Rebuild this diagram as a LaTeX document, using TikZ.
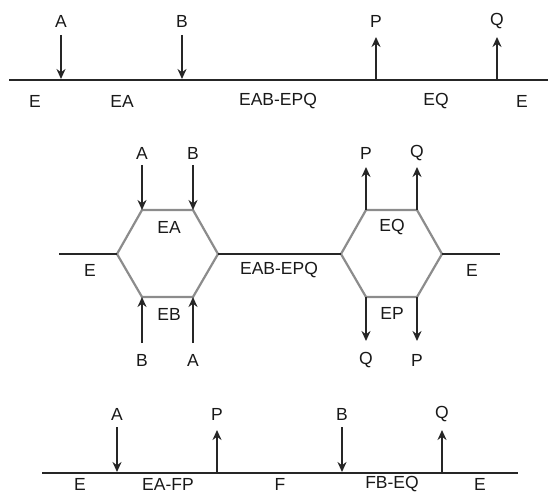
\documentclass[tikz,border=0pt]{standalone}
\usepackage{fontspec}
\setmainfont{Liberation Sans}
\usetikzlibrary{arrows.meta}
\begin{document}
\begin{tikzpicture}[x=1pt,y=-1pt,
  axis/.style={line width=2.2pt,draw=black!85},
  hexedge/.style={line width=2.2pt,draw=black!45},
  arr/.style={line width=2.2pt,draw=black!85,-{Stealth[length=10pt,width=9pt]}},
  lbl/.style={inner sep=0pt,font=\fontsize{17.5}{17.5}\selectfont,text=black!90}]
\useasboundingbox (0,0) rectangle (548,494);
% ---------- top scheme ----------
\coordinate (t0) at (9,80);
\coordinate (t1) at (548,80);
\draw[axis] (t0) -- (t1);
\coordinate (tAs) at (61,35); \coordinate (tAe) at (61,79);
\coordinate (tBs) at (182,35); \coordinate (tBe) at (182,79);
\coordinate (tPs) at (376,80); \coordinate (tPe) at (376,37);
\coordinate (tQs) at (497,80); \coordinate (tQe) at (497,37);
\draw[arr] (tAs) -- (tAe);
\draw[arr] (tBs) -- (tBe);
\draw[arr] (tPs) -- (tPe);
\draw[arr] (tQs) -- (tQe);
\node[lbl] (tA) at (61,21) {A};
\node[lbl] (tB) at (182,21) {B};
\node[lbl] (tP) at (376,21) {P};
\node[lbl] (tQ) at (497,21) {Q};
\node[lbl] (tE1) at (35,101) {E};
\node[lbl] (tEA) at (122,101) {EA};
\node[lbl] (tEAB) at (278,101) {EAB-EPQ};
\node[lbl] (tEQ) at (436,101) {EQ};
\node[lbl] (tE2) at (522,101) {E};
% ---------- middle scheme ----------
\coordinate (hL) at (117,254);
\coordinate (hTL) at (142,210);
\coordinate (hTR) at (193,210);
\coordinate (hR) at (218,254);
\coordinate (hBR) at (193,297);
\coordinate (hBL) at (142,297);
\coordinate (kL) at (341,254);
\coordinate (kTL) at (366,210);
\coordinate (kTR) at (417,210);
\coordinate (kR) at (442,254);
\coordinate (kBR) at (417,297);
\coordinate (kBL) at (366,297);
\coordinate (m0) at (59,254);
\coordinate (m1) at (500,254);
\draw[hexedge] (hL) -- (hTL) -- (hTR) -- (hR) -- (hBR) -- (hBL) -- cycle;
\draw[hexedge] (kL) -- (kTL) -- (kTR) -- (kR) -- (kBR) -- (kBL) -- cycle;
\draw[axis] (m0) -- (hL);
\draw[axis] (hR) -- (kL);
\draw[axis] (kR) -- (m1);
% arrows into left hexagon
\coordinate (mAs) at (142,165); \coordinate (mBs) at (193,165);
\coordinate (mB2s) at (142,343); \coordinate (mA2s) at (193,343);
\draw[arr] (mAs) -- (hTL);
\draw[arr] (mBs) -- (hTR);
\draw[arr] (mB2s) -- (hBL);
\draw[arr] (mA2s) -- (hBR);
% arrows out of right hexagon
\coordinate (mPe) at (366,167); \coordinate (mQe) at (417,167);
\coordinate (mQ2e) at (366,341); \coordinate (mP2e) at (417,341);
\draw[arr] (kTL) -- (mPe);
\draw[arr] (kTR) -- (mQe);
\draw[arr] (kBL) -- (mQ2e);
\draw[arr] (kBR) -- (mP2e);
\node[lbl] (mA) at (142,153) {A};
\node[lbl] (mB) at (193,153) {B};
\node[lbl] (mB2) at (142,360) {B};
\node[lbl] (mA2) at (193,360) {A};
\node[lbl] (mP) at (366,153) {P};
\node[lbl] (mQ) at (417,153) {Q};
\node[lbl] (mQ2) at (366,360) {Q};
\node[lbl] (mP2) at (417,360) {P};
\node[lbl] (mEA) at (169,227) {EA};
\node[lbl] (mEB) at (169,314) {EB};
\node[lbl] (mEQ) at (392,227) {EQ};
\node[lbl] (mEP) at (392,313) {EP};
\node[lbl] (mE1) at (90,270) {E};
\node[lbl] (mEAB) at (279,270) {EAB-EPQ};
\node[lbl] (mE2) at (472,270) {E};
% ---------- bottom scheme ----------
\coordinate (b0) at (42,473);
\coordinate (b1) at (518,473);
\draw[axis] (b0) -- (b1);
\coordinate (bAs) at (117,427); \coordinate (bAe) at (117,472);
\coordinate (bPs) at (217,473); \coordinate (bPe) at (217,430);
\coordinate (bBs) at (342,427); \coordinate (bBe) at (342,472);
\coordinate (bQs) at (442,473); \coordinate (bQe) at (442,430);
\draw[arr] (bAs) -- (bAe);
\draw[arr] (bPs) -- (bPe);
\draw[arr] (bBs) -- (bBe);
\draw[arr] (bQs) -- (bQe);
\node[lbl] (bA) at (117,414) {A};
\node[lbl] (bP) at (217,414) {P};
\node[lbl] (bB) at (342,414) {B};
\node[lbl] (bQ) at (442,414) {Q};
\node[lbl] (bE1) at (80,484) {E};
\node[lbl] (bEAFP) at (168,484) {EA-FP};
\node[lbl] (bF) at (280,484) {F};
\node[lbl] (bFBEQ) at (392,484) {FB-EQ};
\node[lbl] (bE2) at (480,484) {E};
\end{tikzpicture}
\end{document}
